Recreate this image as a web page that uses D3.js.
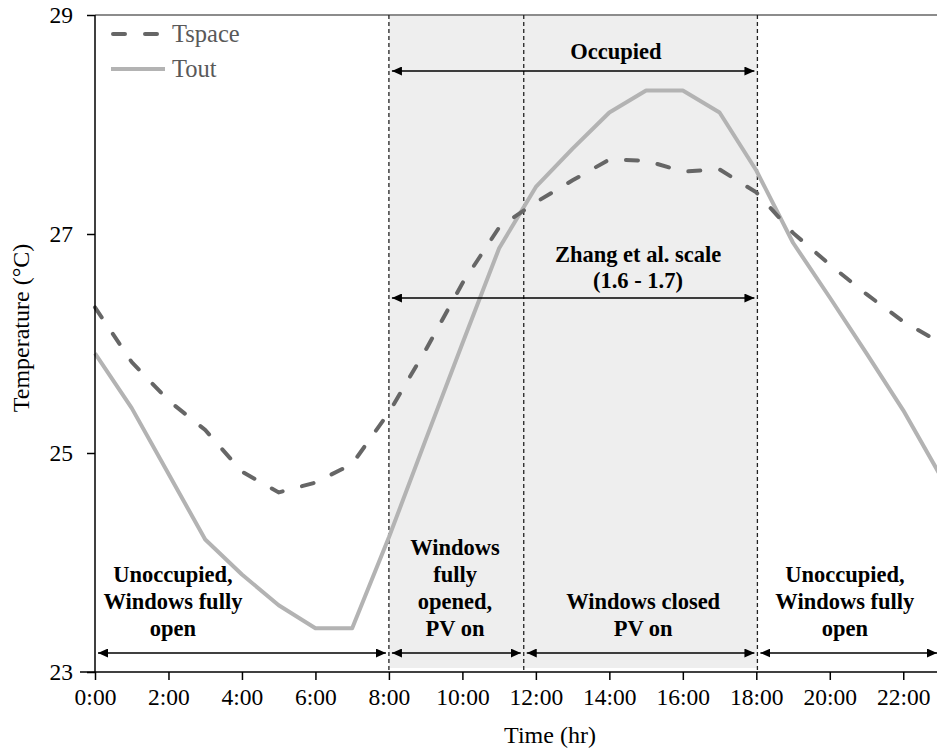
<!DOCTYPE html>
<html><head><meta charset="utf-8">
<script src="https://cdn.jsdelivr.net/npm/d3@7"></script>
<style>html,body{margin:0;padding:0;background:#fff;} svg{display:block;}</style>
</head><body><svg id="c" width="937" height="750"></svg>
<script>
// ---- data ----
const hours = [0,1,2,3,4,5,6,7,8,9,10,11,12,13,14,15,16,17,18,19,20,21,22,23];
const tspace = [26.33,25.83,25.48,25.21,24.83,24.64,24.73,24.90,25.37,25.94,26.55,27.06,27.29,27.49,27.68,27.67,27.57,27.59,27.38,27.01,26.72,26.45,26.20,26.01];
const tout = [25.91,25.41,24.81,24.21,23.89,23.61,23.40,23.40,24.23,25.12,26.00,26.87,27.43,27.78,28.11,28.31,28.31,28.11,27.58,26.92,26.42,25.91,25.39,24.80];
const xTicks = [0,2,4,6,8,10,12,14,16,18,20,22];
const xTickLabels = ["0:00","2:00","4:00","6:00","8:00","10:00","12:00","14:00","16:00","18:00","20:00","22:00"];
const yTicks = [23,25,27,29];
const yTickLabels = ["23","25","27","29"];
const phaseBounds = [8, 11.67, 18.03];          // dashed vertical lines (hr)
const occupiedSpan = [8, 18.03];                 // shaded occupied period
const bottomSpans = [[0,8],[8,11.67],[11.67,18.03],[18.03,23]];
const bottomLabels = [
  {h:2.12, lines:["Unoccupied,","Windows fully","open"]},
  {h:9.8, lines:["Windows","fully","opened,","PV on"]},
  {h:14.92, lines:["Windows closed","PV on"]},
  {h:20.41, lines:["Unoccupied,","Windows fully","open"]}
];
const seriesNames = ["Tspace","Tout"];

// ---- layout ----
const svg = d3.select("#c");
const x = d3.scaleLinear().domain([0,23]).range([95,940]);
const y = d3.scaleLinear().domain([23,29]).range([672,15]);
const serif = "'Liberation Serif','Times New Roman',serif";

const defs = svg.append("defs");
["s","e"].forEach(k=>{
  defs.append("marker").attr("id","ar"+k)
    .attr("viewBox","0 0 10 10").attr("refX", k==="e"?10:0).attr("refY",5)
    .attr("markerWidth",10).attr("markerHeight",9).attr("markerUnits","userSpaceOnUse")
    .attr("orient","auto").attr("preserveAspectRatio","none")
    .append("path").attr("d", k==="e"?"M0,0L10,5L0,10Z":"M10,0L0,5L10,10Z").attr("fill","#000");
});

// shaded occupied period
svg.append("rect")
  .attr("x", x(occupiedSpan[0])).attr("y", y(29))
  .attr("width", x(occupiedSpan[1]) - x(occupiedSpan[0]))
  .attr("height", y(23) - 4 - y(29))
  .attr("fill","#eeeeee");

// top border
svg.append("line").attr("x1",x(0)).attr("x2",937).attr("y1",y(29)).attr("y2",y(29))
  .attr("stroke","#8c8c8c").attr("stroke-width",2);

// dashed verticals
svg.selectAll(".vb").data(phaseBounds).join("line")
  .attr("x1",d=>x(d)).attr("x2",d=>x(d)).attr("y1",y(29)).attr("y2",y(23))
  .attr("stroke","#222").attr("stroke-width",1.3).attr("stroke-dasharray","4,3");

// lines
const line = (arr)=>d3.line().x((d,i)=>x(hours[i])).y(d=>y(d))(arr);
svg.append("path").attr("d",line(tout)).attr("fill","none")
  .attr("stroke","#b3b3b3").attr("stroke-width",4).attr("stroke-linejoin","round");
svg.append("path").attr("d",line(tspace)).attr("fill","none")
  .attr("stroke","#666666").attr("stroke-width",4).attr("stroke-dasharray","12,20")
  .attr("stroke-linecap","round");

// axes
const xAxis = d3.axisBottom(x).tickValues(xTicks).tickFormat((d,i)=>xTickLabels[i]).tickSize(8).tickPadding(8);
const gx = svg.append("g").attr("transform",`translate(0,${y(23)})`).call(xAxis);
gx.select(".domain").remove();
gx.append("line").attr("x1",80).attr("x2",937).attr("stroke","#000").attr("stroke-width",1.5);
gx.selectAll(".tick line").attr("stroke","#000").attr("stroke-width",1.5);
gx.selectAll(".tick text").attr("font-family",serif).attr("font-size",23.5).attr("fill","#000");

const yAxis = d3.axisLeft(y).tickValues(yTicks).tickFormat((d,i)=>yTickLabels[i]).tickSize(8).tickPadding(14);
const gy = svg.append("g").attr("transform",`translate(${x(0)},0)`).call(yAxis);
gy.select(".domain").remove();
gy.append("line").attr("y1",y(29)).attr("y2",y(23)).attr("stroke","#000").attr("stroke-width",1.5);
gy.selectAll(".tick line").attr("stroke","#000").attr("stroke-width",1.5);
gy.selectAll(".tick text").attr("font-family",serif).attr("font-size",23.5).attr("fill","#000");

// axis titles
svg.append("text").attr("x",550).attr("y",743).attr("text-anchor","middle")
  .attr("font-family",serif).attr("font-size",24).text("Time (hr)");
svg.append("text").attr("transform","translate(29,328) rotate(-90)").attr("text-anchor","middle")
  .attr("font-family",serif).attr("font-size",24).text("Temperature (°C)");

// legend
const lg = svg.append("g");
lg.append("line").attr("x1",113).attr("x2",162).attr("y1",34).attr("y2",34)
  .attr("stroke","#666666").attr("stroke-width",4).attr("stroke-dasharray","12,20").attr("stroke-linecap","round");
lg.append("line").attr("x1",111).attr("x2",165).attr("y1",69).attr("y2",69)
  .attr("stroke","#b3b3b3").attr("stroke-width",4);
lg.append("text").attr("x",172).attr("y",42).attr("font-family",serif).attr("font-size",24.5).attr("fill","#595959").text(seriesNames[0]);
lg.append("text").attr("x",172).attr("y",77).attr("font-family",serif).attr("font-size",24.5).attr("fill","#595959").text(seriesNames[1]);

function arrow(h0,h1,yy){
  svg.append("line").attr("x1",x(h0)+3).attr("x2",x(h1)-3).attr("y1",yy).attr("y2",yy)
    .attr("stroke","#000").attr("stroke-width",1.6)
    .attr("marker-start","url(#ars)").attr("marker-end","url(#are)");
}
arrow(occupiedSpan[0], occupiedSpan[1], 71);
arrow(occupiedSpan[0], occupiedSpan[1], 298);
bottomSpans.forEach(s=>arrow(s[0], s[1], 653));

const ann = (hx, yy, t)=>svg.append("text").attr("x",x(hx)).attr("y",yy).attr("text-anchor","middle")
  .attr("font-family",serif).attr("font-weight","bold").attr("font-size",22.5).attr("fill","#000").text(t);
ann(14.18, 59, "Occupied");
ann(14.78, 262, "Zhang et al. scale");
ann(14.78, 288, "(1.6 - 1.7)");
bottomLabels.forEach(b=>{
  const n = b.lines.length;
  b.lines.forEach((t,i)=>ann(b.h, 636 - (n-1-i)*27, t));
});
</script></body></html>
